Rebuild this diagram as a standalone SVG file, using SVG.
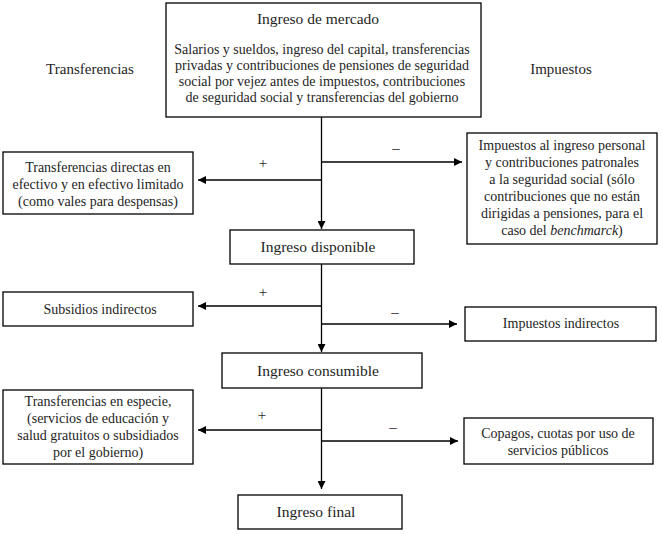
<svg xmlns="http://www.w3.org/2000/svg" width="662" height="534" viewBox="0 0 662 534">
<defs>
<style>
text{font-family:'Liberation Serif','DejaVu Serif',serif;font-size:14px;fill:#1e1e24;text-anchor:middle;dominant-baseline:central}
.lab{font-size:15px}
.ttl{font-size:15.5px}
.box{fill:#fff;stroke:#000;stroke-width:1.3}
.ln{fill:none;stroke:#000;stroke-width:1.3}
</style>
<marker id="ah" viewBox="0 0 10 10" refX="10" refY="5" markerWidth="8" markerHeight="8" markerUnits="userSpaceOnUse" orient="auto">
<path d="M0,0 L10,5 L0,10 z" fill="#000"/>
</marker>
</defs>
<rect width="662" height="534" fill="#fff"/>

<g id="connectors">
<line class="ln" x1="321.5" y1="117" x2="321.5" y2="229" marker-end="url(#ah)"/>
<line class="ln" x1="321.5" y1="180" x2="198" y2="180" marker-end="url(#ah)"/>
<line class="ln" x1="321.5" y1="162" x2="462" y2="162" marker-end="url(#ah)"/>
<line class="ln" x1="321.5" y1="264" x2="321.5" y2="352" marker-end="url(#ah)"/>
<line class="ln" x1="321.5" y1="306" x2="198" y2="306" marker-end="url(#ah)"/>
<line class="ln" x1="321.5" y1="324" x2="457" y2="324" marker-end="url(#ah)"/>
<line class="ln" x1="321.5" y1="388" x2="321.5" y2="489" marker-end="url(#ah)"/>
<line class="ln" x1="321.5" y1="430" x2="198" y2="430" marker-end="url(#ah)"/>
<line class="ln" x1="321.5" y1="441" x2="458" y2="441" marker-end="url(#ah)"/>
<text class="lab" x="263" y="163">+</text>
<text class="lab" x="396" y="148">–</text>
<text class="lab" x="263" y="292">+</text>
<text class="lab" x="395" y="312">–</text>
<text class="lab" x="262" y="415">+</text>
<text class="lab" x="393" y="427">–</text>
</g>

<g id="label-transferencias"><text class="lab" x="90" y="69">Transferencias</text></g>
<g id="label-impuestos"><text class="lab" x="561" y="69">Impuestos</text></g>

<g id="ingreso-mercado">
<rect class="box" x="166" y="3" width="315" height="114"/>
<text class="ttl" x="318" y="18">Ingreso de mercado</text>
<text x="322" y="49">Salarios y sueldos, ingreso del capital, transferencias</text>
<text x="322" y="65">privadas y contribuciones de pensiones de seguridad</text>
<text x="322" y="81">social por vejez antes de impuestos, contribuciones</text>
<text x="322" y="97">de seguridad social y transferencias del gobierno</text>
</g>

<g id="transferencias-directas">
<rect class="box" x="3" y="152" width="190" height="62"/>
<text x="98" y="167">Transferencias directas en</text>
<text x="98" y="184">efectivo y en efectivo limitado</text>
<text x="98" y="201">(como vales para despensas)</text>
</g>

<g id="impuestos-ingreso">
<rect class="box" x="467" y="133" width="190" height="111"/>
<text x="562" y="145">Impuestos al ingreso personal</text>
<text x="562" y="162">y contribuciones patronales</text>
<text x="562" y="179">a la seguridad social (sólo</text>
<text x="562" y="196">contribuciones que no están</text>
<text x="562" y="213">dirigidas a pensiones, para el</text>
<text x="562" y="230">caso del <tspan font-style="italic">benchmarck</tspan>)</text>
</g>

<g id="ingreso-disponible">
<rect class="box" x="230" y="230" width="184" height="34"/>
<text class="ttl" x="318" y="246">Ingreso disponible</text>
</g>

<g id="subsidios-indirectos">
<rect class="box" x="3" y="292" width="190" height="34"/>
<text x="100" y="309">Subsidios indirectos</text>
</g>

<g id="impuestos-indirectos">
<rect class="box" x="465" y="307" width="191" height="34"/>
<text x="561" y="323">Impuestos indirectos</text>
</g>

<g id="ingreso-consumible">
<rect class="box" x="222" y="353" width="200" height="35"/>
<text class="ttl" x="318" y="370">Ingreso consumible</text>
</g>

<g id="transferencias-especie">
<rect class="box" x="3" y="390" width="190" height="74"/>
<text x="98" y="401">Transferencias en especie,</text>
<text x="98" y="418">(servicios de educación y</text>
<text x="98" y="435">salud gratuitos o subsidiados</text>
<text x="98" y="452">por el gobierno)</text>
</g>

<g id="copagos">
<rect class="box" x="464" y="418" width="189" height="46"/>
<text x="558" y="433">Copagos, cuotas por uso de</text>
<text x="558" y="450">servicios públicos</text>
</g>

<g id="ingreso-final">
<rect class="box" x="238" y="495" width="164" height="34"/>
<text class="ttl" x="316" y="511">Ingreso final</text>
</g>
</svg>
